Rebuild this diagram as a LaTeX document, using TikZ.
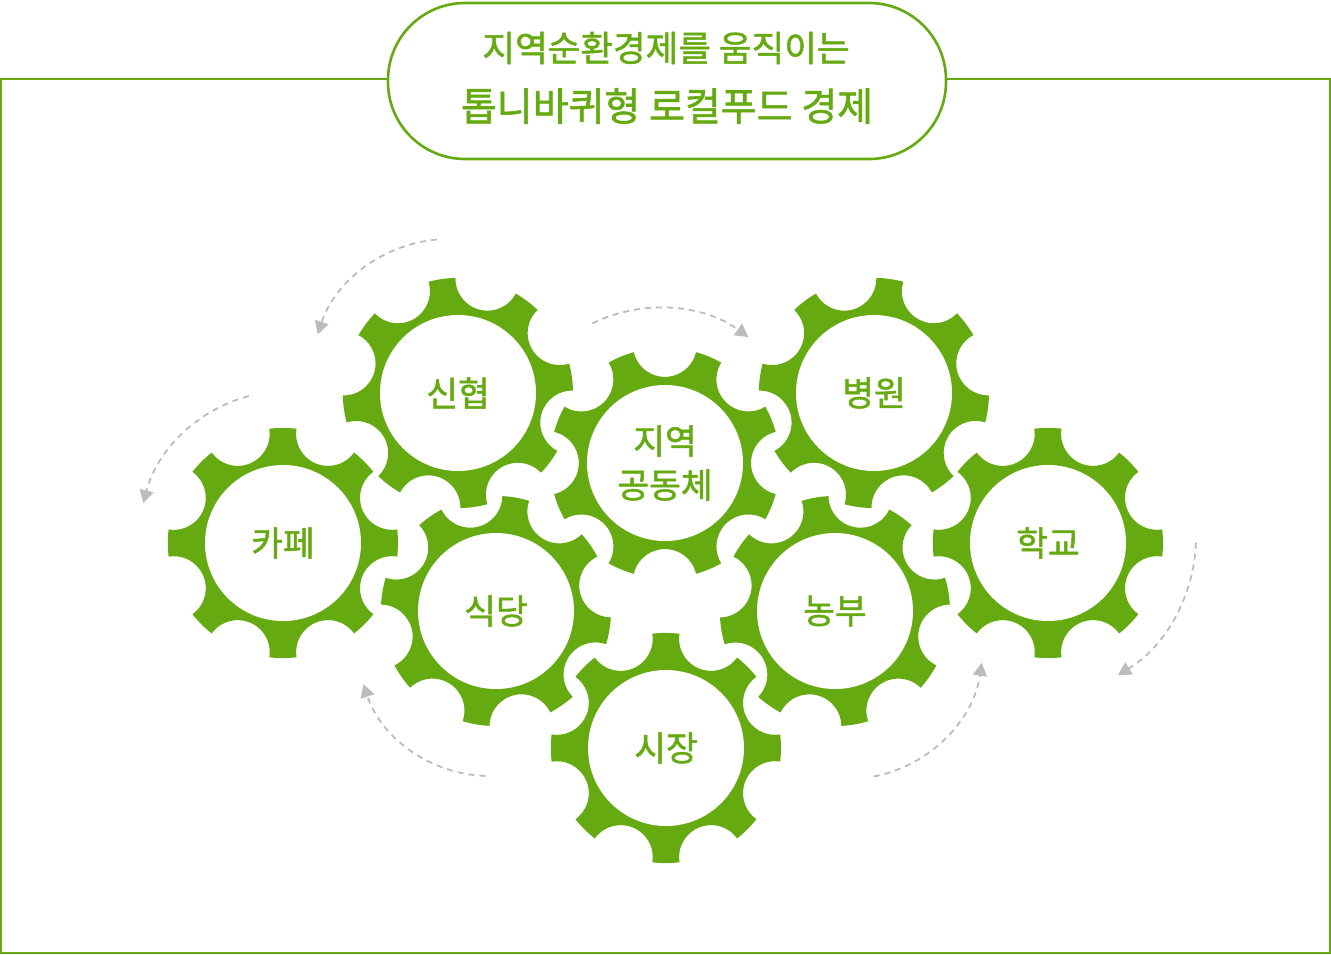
\documentclass[tikz,border=0pt]{standalone}
\usepackage{fontspec}
\setmainfont{Noto Sans CJK KR}
\newfontfamily\krmedium{Noto Sans CJK KR}[FakeBold=1.4]
\usepackage{xcolor}
\usetikzlibrary{arrows.meta, positioning}

\definecolor{leaf}{RGB}{102,170,17}
\definecolor{flowgray}{RGB}{188,188,188}

\begin{document}
\begin{tikzpicture}[x=1pt, y=-1pt,
    gearlabel/.style={text=leaf, font=\krmedium\fontsize{34.5}{44}\selectfont, align=center, inner sep=0pt},
    flow/.style={flowgray, line width=1.8pt, dash pattern=on 6pt off 5pt,
                 -{Triangle[length=13pt, width=14pt]}},
    frame/.style={draw=leaf, line width=1.6pt},
    pill/.style={draw=leaf, line width=2.6pt, fill=white, rounded corners=77pt,
                 minimum width=558pt, minimum height=156pt},
    pics/gear/.style={code={
        \fill[leaf, preaction={draw=white, line width=9pt, line join=round}]
          ({#1-6.8}:115)
          \foreach \k in {0,...,7}{
            arc[start angle={#1+45*\k-6.8}, end angle={#1+45*\k+6.8}, radius=115]
            arc[start angle={#1+45*\k+22.5-103.2}, end angle={#1+45*\k+22.5-256.8}, radius=32]
          } -- cycle;
        \fill[white] (0,0) circle (78);
    }}
  ]
  \useasboundingbox (0,0) rectangle (1331,954);

  % Outer frame and title
  \draw[frame] (1,79) rectangle (1330,953);
  \node[pill] (title) at (667,81) {};
  \node[text=leaf, font=\krmedium\fontsize{35.5}{40}\selectfont, inner sep=0pt] (titletop) at (666,48) {지역순환경제를 움직이는};
  \node[text=leaf, font=\krmedium\fontsize{39}{44}\selectfont, inner sep=0pt] (titlemain) at (667,106) {톱니바퀴형 로컬푸드 경제};

  % Gears, back to front
  \pic at (283,543) {gear=0};
  \node[gearlabel] (cafe) at (283,543) {카페};
  \pic at (458,393) {gear=-8};
  \node[gearlabel] (credit) at (458,393) {신협};
  \pic at (874,393) {gear=8};
  \node[gearlabel] (hospital) at (874,393) {병원};
  \pic at (1048,543) {gear=0};
  \node[gearlabel] (school) at (1048,543) {학교};
  \pic at (665,463) {gear=22.5};
  \node[gearlabel] (community) at (665,463) {지역\\공동체};
  \pic at (496,611) {gear=10};
  \node[gearlabel] (diner) at (496,611) {식당};
  \pic at (835,611) {gear=-10};
  \node[gearlabel] (farmer) at (835,611) {농부};
  \pic at (666,748) {gear=0};
  \node[gearlabel] (market) at (666,748) {시장};

  % Turning arrows
  \draw[flow] ([shift={(-95:138)}]449,377) arc[start angle=-95, end angle=-162, radius=138];
  \draw[flow] ([shift={(-105:148)}]287,539) arc[start angle=-105, end angle=-166, radius=148];
  \draw[flow] ([shift={(-116:152)}]659,460) arc[start angle=-116, end angle=-54, radius=152];
  \draw[flow] ([shift={(2:161)}]1035,537) arc[start angle=2, end angle=59, radius=161];
  \draw[flow] ([shift={(79:135)}]848,644) arc[start angle=79, end angle=8, radius=135];
  \draw[flow] ([shift={(92:133)}]490,643) arc[start angle=92, end angle=162, radius=133];
\end{tikzpicture}
\end{document}
